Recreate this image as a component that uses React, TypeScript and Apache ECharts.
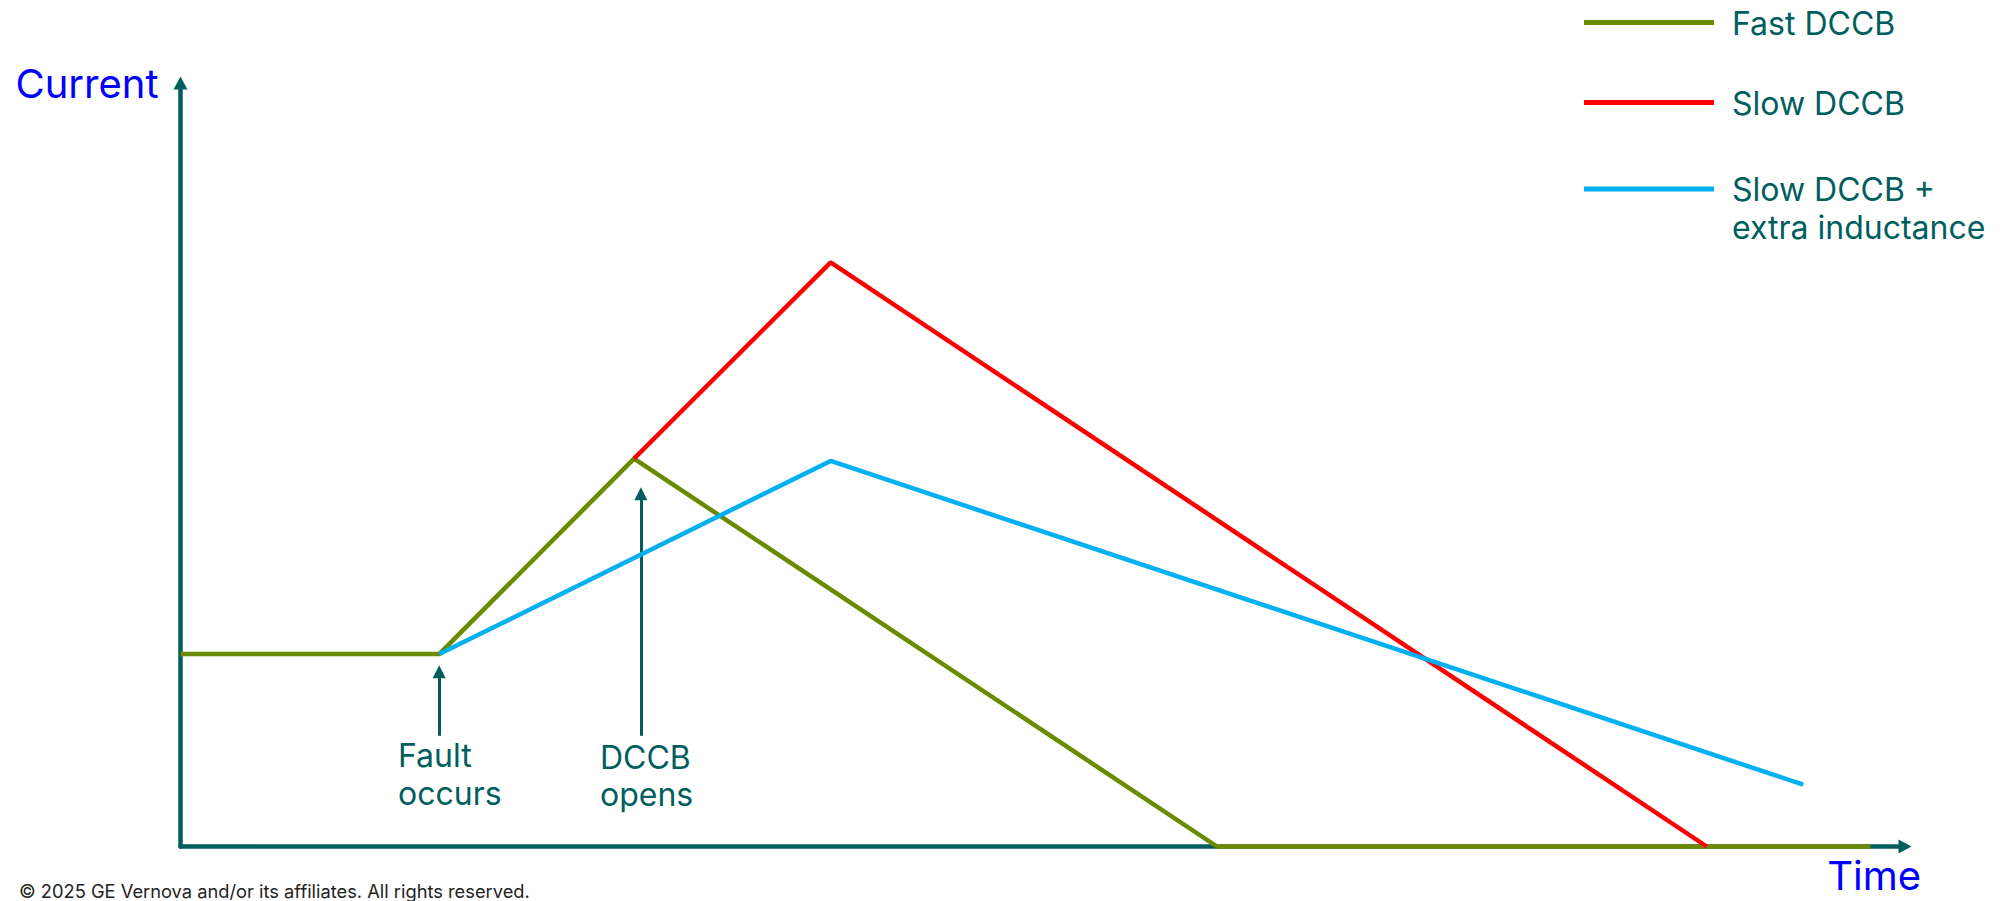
import React, { useEffect, useRef } from "react";
import * as echarts from "echarts";

// ---- data (time units 0..100, current units 0..100) ----
const fastDccb: [number, number][] = [[0, 25.2], [15, 25.2], [26.3, 50.8], [60.1, 0], [98, 0]];
const slowDccb: [number, number][] = [[26.3, 50.8], [37.7, 76.5], [88.5, 0]];
const slowDccbInductance: [number, number][] = [[15, 25.2], [37.7, 50.5], [94.1, 8.1]];
const seriesNames = ["Fast DCCB", "Slow DCCB", "Slow DCCB +\nextra inductance"];
const seriesColors = ["#6A8A00", "#FF0000", "#00B0F0"];
const faultArrow: [number, number][] = [[15, 14.5], [15, 22.9]];
const openArrow: [number, number][] = [[26.7, 14.5], [26.7, 46.2]];
const annotationLabels = ["Fault\noccurs", "DCCB\nopens"];
const axisNames = ["Time", "Current"];
const copyright = "© 2025 GE Vernova and/or its affiliates. All rights reserved.";

const TEAL = "#005E5E";
const FONT = "Inter, 'Noto Sans', sans-serif";

export default function App() {
  const ref = useRef<HTMLDivElement>(null);
  useEffect(() => {
    if (!ref.current) return;
    const chart = echarts.init(ref.current, undefined, { renderer: "svg" });

    const lineSeries = [fastDccb, slowDccb, slowDccbInductance].map((d, i) => ({
      type: "line" as const,
      name: seriesNames[i],
      data: d,
      showSymbol: false,
      symbol: "none",
      clip: false,
      silent: true,
      z: 3 + i,
      lineStyle: { color: seriesColors[i], width: 4.5 },
      itemStyle: { color: seriesColors[i] },
      markLine:
        i === 0
          ? {
              silent: true,
              symbol: ["none", "triangle"],
              symbolSize: [13, 13],
              label: { show: false },
              lineStyle: { color: TEAL, width: 3, type: "solid" },
              data: [
                [{ coord: faultArrow[0] }, { coord: faultArrow[1] }],
                [{ coord: openArrow[0] }, { coord: openArrow[1] }],
              ],
            }
          : undefined,
    }));

    const legendY = [22.5, 102.5, 189];
    const legendTextY = [23.3, 103, 189 - 19];
    const legendGraphics: any[] = [];
    seriesNames.forEach((n, i) => {
      legendGraphics.push({
        type: "line",
        silent: true,
        shape: { x1: 1584, y1: legendY[i], x2: 1714, y2: legendY[i] },
        style: { stroke: seriesColors[i], lineWidth: 5 },
      });
      const multi = n.indexOf("\n") >= 0;
      legendGraphics.push({
        type: "text",
        silent: true,
        x: 1732,
        y: legendTextY[i],
        style: {
          text: n,
          fill: TEAL,
          fontSize: 32,
          fontFamily: FONT,
          lineHeight: 38,
          align: "left",
          textAlign: "left",
          verticalAlign: multi ? "top" : "middle",
          textVerticalAlign: multi ? "top" : "middle",
        },
      });
    });

    const option: any = {
      animation: false,
      grid: { left: 180.5, right: 103, top: 83, bottom: 54.5, containLabel: false },
      xAxis: {
        type: "value",
        min: 0,
        max: 100,
        axisLine: {
          show: true,
          onZero: false,
          symbol: ["none", "triangle"],
          symbolSize: [14, 13],
          lineStyle: { color: TEAL, width: 4.5 },
        },
        axisTick: { show: false },
        axisLabel: { show: false },
        splitLine: { show: false },
      },
      yAxis: {
        type: "value",
        min: 0,
        max: 100,
        axisLine: {
          show: true,
          onZero: false,
          symbol: ["none", "triangle"],
          symbolSize: [14, 13],
          lineStyle: { color: TEAL, width: 4.5 },
        },
        axisTick: { show: false },
        axisLabel: { show: false },
        splitLine: { show: false },
      },
      series: lineSeries,
      graphic: [
        {
          type: "text",
          silent: true,
          x: 158.5,
          y: 83.8,
          style: {
            text: axisNames[1],
            fill: "#0000FF",
            fontSize: 40,
            fontFamily: FONT,
            align: "right",
            textAlign: "right",
            verticalAlign: "middle",
            textVerticalAlign: "middle",
          },
        },
        {
          type: "text",
          silent: true,
          x: 1921,
          y: 875,
          style: {
            text: axisNames[0],
            fill: "#0000FF",
            fontSize: 40,
            lineHeight: 40,
            fontFamily: FONT,
            align: "right",
            textAlign: "right",
            verticalAlign: "middle",
            textVerticalAlign: "middle",
          },
        },
        {
          type: "text",
          silent: true,
          x: 398,
          y: 736.3,
          style: {
            text: annotationLabels[0],
            fill: TEAL,
            fontSize: 32,
            fontFamily: FONT,
            lineHeight: 38,
            align: "left",
            textAlign: "left",
            verticalAlign: "top",
            textVerticalAlign: "top",
          },
        },
        {
          type: "text",
          silent: true,
          x: 600,
          y: 739,
          style: {
            text: annotationLabels[1],
            fill: TEAL,
            fontSize: 32,
            fontFamily: FONT,
            lineHeight: 37,
            align: "left",
            textAlign: "left",
            verticalAlign: "top",
            textVerticalAlign: "top",
          },
        },
        {
          type: "text",
          silent: true,
          x: 19,
          y: 890.5,
          style: {
            text: copyright,
            fill: "#222222",
            fontSize: 18.3,
            lineHeight: 18,
            fontFamily: FONT,
            align: "left",
            textAlign: "left",
            verticalAlign: "middle",
            textVerticalAlign: "middle",
          },
        },
        ...legendGraphics,
      ],
    };

    chart.setOption(option);
    return () => chart.dispose();
  }, []);

  return (
    <div
      ref={ref}
      style={{ position: "fixed", left: 0, top: 0, width: 2008, height: 901, background: "#ffffff" }}
    />
  );
}
